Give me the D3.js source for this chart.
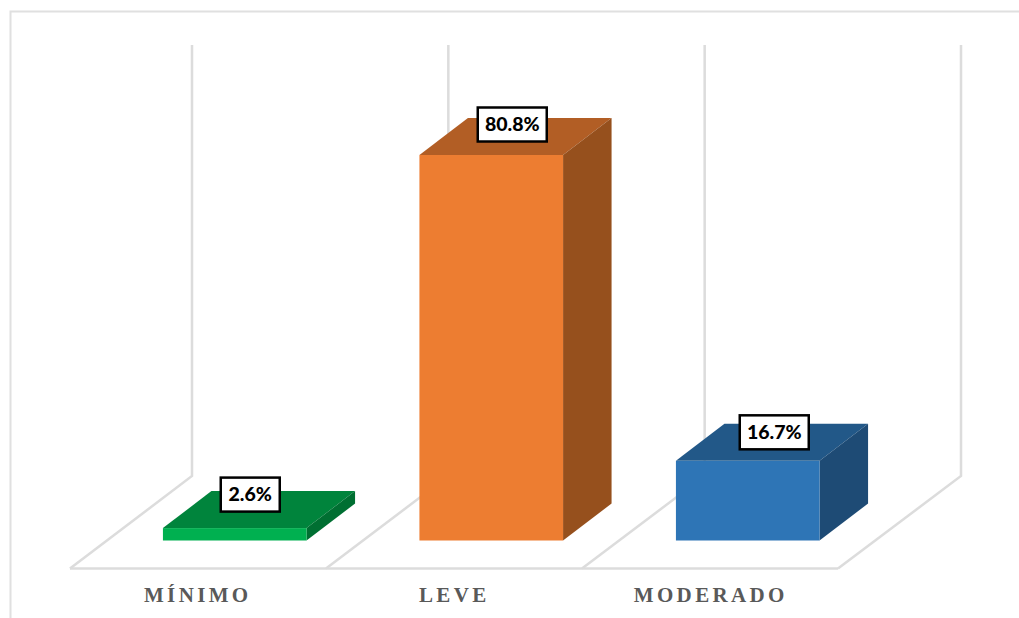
<!DOCTYPE html>
<html><head><meta charset="utf-8">
<script src="https://cdn.jsdelivr.net/npm/d3@7/dist/d3.min.js"></script>
<style>html,body{margin:0;padding:0;background:#fff}svg{display:block}</style>
</head><body><div id="c"></div>
<script>
const categories = ["MÍNIMO","LEVE","MODERADO"];
const values = [2.6,80.8,16.7];
const labels = ["2.6%","80.8%","16.7%"];
const frontColors = ["#00b050","#ed7d31","#2e75b6"];
const topColors = ["#00843c","#b25e25","#225888"];
const sideColors = ["#006f32","#96501d","#1e4b75"];

const W=1019,H=618;
const svg=d3.select("#c").append("svg").attr("width",W).attr("height",H);
const dx=48.5,dy=-37;
const x=d3.scaleBand().domain(categories).range([106.5,876]).paddingInner(0.44).paddingOuter(0.22);
const y=d3.scaleLinear().domain([0,80.8]).range([540.5,155]);
const grid="#dcdcdc";
// outer frame
svg.append("path").attr("d","M10.5,618V11.5H1019").attr("fill","none").attr("stroke","#e0e0e0").attr("stroke-width",2);
// gridlines / walls
const wallX=d3.scaleLinear().domain([0,3]).range([192,961]);
const floorX=d3.scaleLinear().domain([0,3]).range([70,838]);
const yBack=476,yFront=568.5,yTop=45;
d3.range(4).forEach(i=>{
  svg.append("path").attr("d",`M${wallX(i)},${yTop}V${yBack}L${floorX(i)},${yFront}`)
   .attr("fill","none").attr("stroke",grid).attr("stroke-width",2.5);
});
svg.append("line").attr("x1",floorX(0)).attr("x2",floorX(3)).attr("y1",yFront).attr("y2",yFront).attr("stroke",grid).attr("stroke-width",2.5);
// bars
const g=svg.append("g");
categories.forEach((c,i)=>{
  const x0=x(c),x1=x0+x.bandwidth(),yt=y(values[i]),yb=y(0);
  g.append("path").attr("d",`M${x0},${yt}L${x0+dx},${yt+dy}H${x1+dx}L${x1},${yt}Z`).attr("fill",topColors[i]);
  g.append("path").attr("d",`M${x1},${yt}L${x1+dx},${yt+dy}V${yb+dy}L${x1},${yb}Z`).attr("fill",sideColors[i]);
  g.append("rect").attr("x",x0).attr("y",yt).attr("width",x.bandwidth()).attr("height",yb-yt).attr("fill",frontColors[i]);
});
// data labels
const labelDx=[15.5,21,26.5], labelDy=[-33.5,-30.5,-28.5], labelW=[59,69,69];
categories.forEach((c,i)=>{
  const cx=x(c)+x.bandwidth()/2+labelDx[i], cy=y(values[i])+labelDy[i];
  const w=labelW[i],h=34;
  svg.append("rect").attr("x",cx-w/2).attr("y",cy-h/2).attr("width",w).attr("height",h).attr("fill","#fff").attr("stroke","#000").attr("stroke-width",2.5);
  svg.append("text").attr("x",cx).attr("y",cy+6.8).attr("text-anchor","middle")
    .attr("font-family","Lato, Carlito, sans-serif").attr("font-weight",900).attr("font-size",19.5).attr("fill","#000").text(labels[i]);
});
// category labels
categories.forEach((c,i)=>{
  svg.append("text").attr("x",x(c)+x.bandwidth()/2-37).attr("y",602).attr("text-anchor","middle")
   .attr("font-family","'Liberation Serif',serif").attr("font-weight",700).attr("font-size",21).attr("letter-spacing",3.35).attr("fill","#595959").text(c);
});
</script></body></html>
